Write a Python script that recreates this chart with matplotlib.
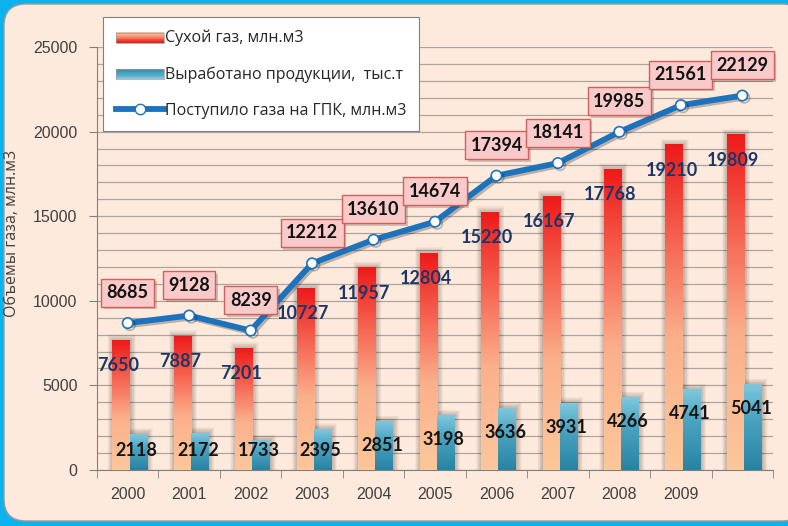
import numpy as np
import matplotlib
matplotlib.use("Agg")
from matplotlib import pyplot as plt
from matplotlib.colors import LinearSegmentedColormap
from matplotlib.patches import FancyBboxPatch, Rectangle, Patch
from matplotlib.lines import Line2D
from matplotlib import patheffects as pe
from matplotlib.legend_handler import HandlerBase

# данные
years = ['2000', '2001', '2002', '2003', '2004', '2005', '2006', '2007', '2008', '2009', '']
dry_gas = [7650, 7887, 7201, 10727, 11957, 12804, 15220, 16167, 17768, 19210, 19809]
products = [2118, 2172, 1733, 2395, 2851, 3198, 3636, 3931, 4266, 4741, 5041]
gas_in = [8685, 9128, 8239, 12212, 13610, 14674, 17394, 18141, 19985, 21561, 22129]

label_dry = 'Сухой газ, млн.м3'
label_prod = 'Выработано продукции,  тыс.т'
label_in = 'Поступило газа на ГПК, млн.м3'
ylabel = 'Объемы газа, млн.м3'

NUM_FONT = ['Lato', 'DejaVu Sans']
TXT_FONT = ['Open Sans', 'DejaVu Sans']

red_cmap = LinearSegmentedColormap.from_list(
    'red', [(0, '#FCC79A'), (0.4, '#FBB08C'), (0.72, '#F5604E'), (1, '#EE1A1A')])
blue_cmap = LinearSegmentedColormap.from_list(
    'blue', [(0, '#2883A3'), (0.6, '#4AA3C0'), (1, '#7EC8DE')])


def grad_bar(ax, xc, w, h, cmap):
    # размытая тень вокруг столбца
    for k in range(1, 9):
        dx = k * 0.011
        ax.add_patch(Rectangle((xc - w / 2 - dx + 0.01, 0), w + 2 * dx, h + k * 45,
                               color='#2a1a10', alpha=0.035, lw=0, zorder=2))
    g = np.linspace(0, 1, 256).reshape(-1, 1)
    ax.imshow(g, extent=[xc - w / 2, xc + w / 2, 0, h], origin='lower',
              aspect='auto', cmap=cmap, interpolation='bicubic', zorder=3)


class GradHandler(HandlerBase):
    def __init__(self, cmap):
        super().__init__()
        self.cmap = cmap

    def create_artists(self, legend, orig, xd, yd, width, height, fontsize, trans):
        arts = []
        n = 12
        for i in range(n):
            c = self.cmap(0.25 + 0.75 * (1 - i / (n - 1)))
            arts.append(Rectangle((xd, yd + i * height / n), width, height / n + 0.3,
                                  color=c, lw=0, transform=trans))
        arts.append(Rectangle((xd, yd), width, height, fill=False,
                              ec='#999999', lw=0.5, transform=trans))
        return arts


def main():
    fig = plt.figure(figsize=(7.88, 5.26), dpi=100)
    fig.patch.set_facecolor('#0BB2EC')

    # фон-панель
    bg = fig.add_axes([0, 0, 1, 1])
    bg.set_xlim(0, 788)
    bg.set_ylim(526, 0)
    bg.axis('off')
    bg.add_patch(FancyBboxPatch((4, 4), 800, 517, boxstyle='round,pad=0,rounding_size=22',
                                fc='#FDEADC', ec='#9A9A9A', lw=1))

    ax = fig.add_axes([97 / 788, 56 / 526, 676 / 788, 423 / 526])
    ax.patch.set_alpha(0)
    n = len(years)
    x = np.arange(n)
    w = 0.28

    for i in range(n):
        grad_bar(ax, x[i] - 0.11, w, dry_gas[i], red_cmap)
        grad_bar(ax, x[i] + 0.17, w, products[i], blue_cmap)

    ax.plot(x, gas_in, color='#1C72BD', lw=4.2, marker='o', ms=7.5,
            mfc='white', mec='#1C72BD', mew=1.2, zorder=5,
            path_effects=[pe.SimpleLineShadow(offset=(1.5, -1.5), alpha=0.25), pe.Normal()])

    for i in range(n):
        t = ax.text(x[i], gas_in[i] + 1800, str(gas_in[i]), ha='center', va='center',
                    fontsize=13, fontweight='bold', family=NUM_FONT, color='#111111', zorder=7,
                    bbox=dict(boxstyle='square,pad=0.3', fc='#F9CACA', ec='#D0605C', lw=1))
        t.get_bbox_patch().set_path_effects(
            [pe.SimplePatchShadow(offset=(2, -2), alpha=0.25), pe.Normal()])
        ax.text(x[i] - 0.15, dry_gas[i] - 1500, str(dry_gas[i]), ha='center', va='center',
                fontsize=13, fontweight='bold', family=NUM_FONT, color='#1F3566', zorder=6)
        yb = max(products[i] - 1400, 1150)
        ax.text(x[i] + 0.14, yb, str(products[i]), ha='center', va='center',
                fontsize=13, fontweight='bold', family=NUM_FONT, color='#141414', zorder=6)

    ax.set_xlim(-0.5, n - 0.5)
    ax.set_ylim(0, 25000)
    ax.set_yticks(np.arange(0, 25001, 5000))
    ax.set_yticks(np.arange(0, 25001, 1000), minor=True)
    ax.set_xticks(x)
    ax.set_xticklabels(years)
    ax.set_xticks(np.arange(-0.5, n, 1), minor=True)
    ax.grid(True, which='both', axis='y', color='#ADA59D', lw=0.9, zorder=0)
    ax.set_axisbelow(True)
    ax.tick_params(axis='y', which='major', length=6, color='#808080', labelsize=11.5,
                   labelcolor='#404040', pad=8)
    ax.tick_params(axis='y', which='minor', length=0)
    ax.tick_params(axis='x', which='major', length=0, labelsize=11.5, labelcolor='#404040', pad=12)
    ax.tick_params(axis='x', which='minor', length=6, color='#808080')
    for lab in ax.get_xticklabels() + ax.get_yticklabels():
        lab.set_family(['Liberation Sans', 'DejaVu Sans'])
    for s in ['top', 'right']:
        ax.spines[s].set_visible(False)
    ax.spines['left'].set_color('#808080')
    ax.spines['bottom'].set_color('#808080')

    ax.set_ylabel(ylabel, fontsize=11.5, color='#404040', family=TXT_FONT)
    ax.yaxis.set_label_coords(-0.114, 0.56)

    h1 = Patch(label=label_dry)
    h2 = Patch(label=label_prod)
    h3 = Line2D([], [], color='#1C72BD', lw=4.2, marker='o', ms=7.5, mfc='white',
                mec='#1C72BD', label=label_in)
    leg = fig.legend(handles=[h1, h2, h3], loc='upper left',
                     bbox_to_anchor=(103 / 788, 1 - 17 / 526),
                     handler_map={h1: GradHandler(red_cmap), h2: GradHandler(blue_cmap)},
                     prop={'family': TXT_FONT, 'size': 11.5}, labelcolor='#262626',
                     fancybox=False, framealpha=1, edgecolor='#808080',
                     handlelength=3.0, handleheight=0.6, handletextpad=0.1,
                     labelspacing=1.25, borderpad=0.8, borderaxespad=0)
    leg.get_frame().set_linewidth(0.8)

    fig.savefig('out.png', dpi=100)


if __name__ == "__main__":
    main()
